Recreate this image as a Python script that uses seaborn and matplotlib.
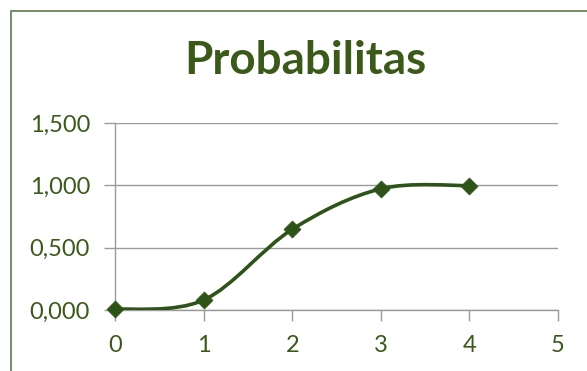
import numpy as np
import pandas as pd
import seaborn as sns
import matplotlib
matplotlib.use("Agg")
import matplotlib.pyplot as plt
from matplotlib.path import Path
from matplotlib.patches import PathPatch, Rectangle
from matplotlib.ticker import FuncFormatter

x_values = [0, 1, 2, 3, 4]
probabilities = [0.005, 0.08, 0.647, 0.972, 0.998]
title_text = "Probabilitas"
x_ticks = [0, 1, 2, 3, 4, 5]
y_ticks = [0.0, 0.5, 1.0, 1.5]

sns.set_theme(style="white")
plt.rcParams['font.family'] = ['Lato', 'DejaVu Sans']

text_col = "#3b5a1a"
line_col = "#2e5318"
grid_col = "#9a9a9a"

fig = plt.figure(figsize=(5.87, 3.71), dpi=100)
fig.patch.set_facecolor("white")
ax = fig.add_axes([115/587, 1 - 310/371, (558 - 115)/587, (310 - 123)/371])

df = pd.DataFrame({"x": x_values, "p": probabilities})

# smoothed line (Excel-style Catmull-Rom Bezier) through the data points
pts = np.column_stack([df["x"].to_numpy(float), df["p"].to_numpy(float)])
n = len(pts)
verts = [tuple(pts[0])]
codes = [Path.MOVETO]
for i in range(n - 1):
    p0 = pts[max(i - 1, 0)]
    p1 = pts[i]
    p2 = pts[i + 1]
    p3 = pts[min(i + 2, n - 1)]
    c1 = p1 + (p2 - p0) / 6.0
    c2 = p2 - (p3 - p1) / 6.0
    verts += [tuple(c1), tuple(c2), tuple(p2)]
    codes += [Path.CURVE4] * 3
ax.add_patch(PathPatch(Path(verts, codes), facecolor="none", edgecolor=line_col,
                       lw=2.6, zorder=3, capstyle="round", joinstyle="round"))

sns.scatterplot(data=df, x="x", y="p", marker="D", s=75, color=line_col,
                edgecolor=line_col, linewidth=0.5, ax=ax, zorder=4, clip_on=False)

ax.set_xlim(0, 5)
ax.set_ylim(0, 1.5)
ax.set_xticks(x_ticks)
ax.set_yticks(y_ticks)
ax.yaxis.set_major_formatter(FuncFormatter(lambda v, p: f"{v:.3f}".replace(".", ",")))
ax.set_xlabel("")
ax.set_ylabel("")

ax.grid(axis="y", color=grid_col, lw=1.0)
ax.grid(axis="x", visible=False)
ax.set_axisbelow(True)
for s in ["top", "right"]:
    ax.spines[s].set_visible(False)
for s in ["left", "bottom"]:
    ax.spines[s].set_color(grid_col)
    ax.spines[s].set_linewidth(1.0)

ax.tick_params(axis="y", which="major", length=8, width=1.0, color=grid_col,
               direction="out", pad=10, labelsize=17, labelcolor=text_col, left=True)
ax.tick_params(axis="x", which="major", length=8, width=1.0, color=grid_col,
               direction="out", pad=10, labelsize=17, labelcolor=text_col, bottom=True)

fig.text(305/587, 1 - 61/371, title_text, ha="center", va="center",
         fontsize=33, fontweight="bold", color=text_col)

# outer chart frame (cut off at right and bottom as in the original)
fig.patches.append(Rectangle((11/587, -0.1), 1.2, 1 - 11/371 + 0.1,
                             transform=fig.transFigure, fill=False,
                             edgecolor="#5d7a45", lw=1.2))

fig.savefig("out.png", dpi=100)
